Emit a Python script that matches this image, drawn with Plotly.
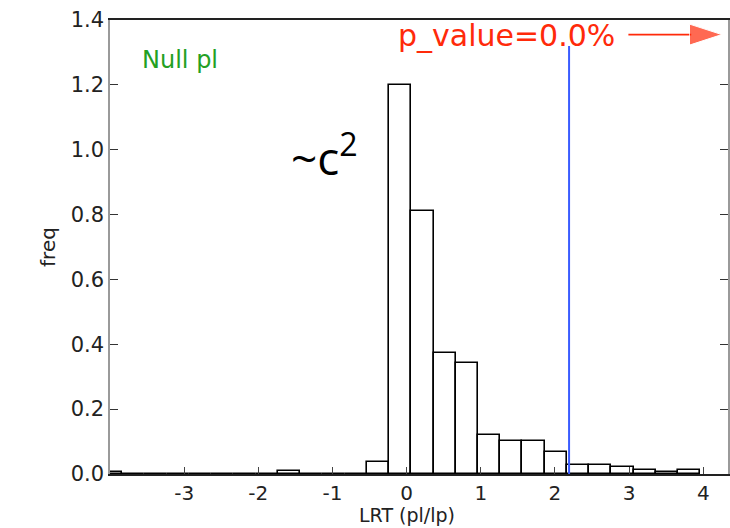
import plotly.graph_objects as go

# ---- data ----
bin_width = 0.3
bin_centers = [-3.988, -3.688, -3.388, -3.088, -2.788, -2.488, -2.188, -1.888,
               -1.588, -1.288, -0.988, -0.688, -0.388, -0.088, 0.212, 0.512,
               0.812, 1.112, 1.412, 1.712, 2.012, 2.312, 2.612, 2.912,
               3.212, 3.512, 3.812]
freq = [0.007, 0.0, 0.0, 0.0, 0.0, 0.0, 0.0, 0.0,
        0.008, 0.0, 0.0, 0.0, 0.037, 1.20, 0.81, 0.374,
        0.343, 0.121, 0.102, 0.102, 0.069, 0.027, 0.027, 0.022,
        0.011, 0.005, 0.013]
observed_lrt = 2.19
observed_line_top = 1.32
x_tick_vals = [-3, -2, -1, 0, 1, 2, 3, 4]
x_tick_text = ["-3", "-2", "-1", "0", "1", "2", "3", "4"]
y_tick_vals = [0.0, 0.2, 0.4, 0.6, 0.8, 1.0, 1.2, 1.4]
x_range = [-4.0, 4.333]
y_range = [0.0, 1.4]

# annotation anchors (data units)
arrow_x = [2.99, 4.25]
arrow_y = [1.355, 1.355]

FONT = "DejaVu Sans"

fig = go.Figure()

fig.add_trace(go.Bar(
    x=bin_centers, y=freq, width=bin_width,
    marker=dict(color="white", line=dict(color="black", width=1.6)),
    showlegend=False, hoverinfo="skip",
))

fig.add_trace(go.Scatter(
    x=[observed_lrt, observed_lrt], y=[0, observed_line_top],
    mode="lines", line=dict(color="#3a5cff", width=2),
    showlegend=False, hoverinfo="skip",
))

fig.add_trace(go.Scatter(
    x=arrow_x, y=arrow_y, mode="lines+markers",
    line=dict(color="#ff2a0a", width=1.6),
    marker=dict(symbol=["circle", "arrow"], size=[1, 34], angleref="previous",
                color="#ff2a0a", standoff=0),
    showlegend=False, hoverinfo="skip", cliponaxis=False,
))

fig.add_annotation(x=-3.6, y=1.276, xref="x", yref="y", text="Null pl",
                   showarrow=False, xanchor="left", yanchor="middle",
                   font=dict(family=FONT, size=24, color="#23a023"))
fig.add_annotation(x=-0.15, y=1.353, xref="x", yref="y", text="p_value=0.0%",
                   showarrow=False, xanchor="left", yanchor="middle",
                   font=dict(family=FONT, size=30, color="#ff2a0a"))
fig.add_annotation(x=-1.58, y=0.985, xref="x", yref="y", text="~c<sup>2</sup>",
                   showarrow=False, xanchor="left", yanchor="middle",
                   font=dict(family="Open Sans", size=46, color="black"))
fig.add_annotation(x=0.0, y=0, xref="x", yref="paper", text="LRT (pl/lp)",
                   showarrow=False, xanchor="center", yanchor="top", yshift=-28,
                   font=dict(family=FONT, size=19, color="#222222"))

fig.update_layout(
    width=730, height=528,
    margin=dict(l=110, r=0, t=20, b=54),
    paper_bgcolor="white", plot_bgcolor="white",
    bargap=0,
    font=dict(family=FONT, size=20, color="#222222"),
)
fig.update_xaxes(
    range=x_range, tickvals=x_tick_vals, ticktext=x_tick_text,
    showgrid=False, zeroline=False,
    showline=True, linecolor="#222222", linewidth=2, mirror=True,
    ticks="inside", ticklen=7, tickcolor="#444444", tickwidth=1.2,
    tickfont=dict(family=FONT, size=20, color="#222222"),
)
fig.update_yaxes(
    range=y_range, tickvals=y_tick_vals, tickformat=".1f",
    showgrid=False, zeroline=False,
    showline=True, linecolor="#9a9a9a", linewidth=1.5, mirror="ticks",
    ticks="inside", ticklen=8, tickcolor="#333333", tickwidth=1.2,
    tickfont=dict(family=FONT, size=21, color="#222222"),
    title=dict(text="freq", standoff=10,
               font=dict(family=FONT, size=20, color="#222222")),
)

fig.write_html("out.html")
